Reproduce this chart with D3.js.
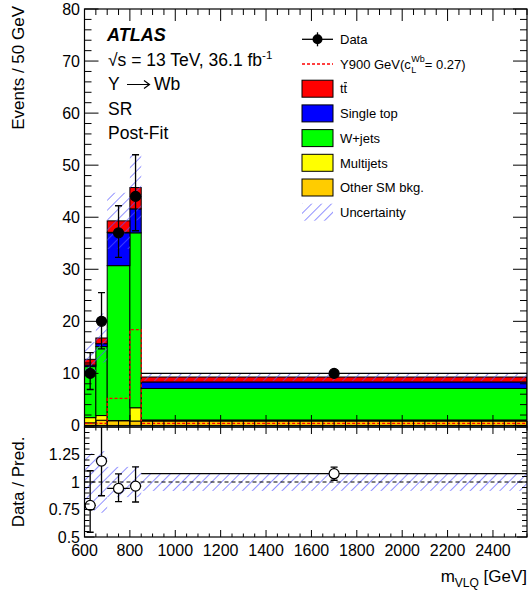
<!DOCTYPE html>
<html><head><meta charset="utf-8">
<script src="https://cdn.jsdelivr.net/npm/d3@7"></script>
<style>body{margin:0;background:#fff} text{font-family:"Liberation Sans",Arial,Helvetica,sans-serif;fill:#000}</style>
</head><body><svg id="c" width="531" height="597"></svg>
<script>
// ---- data ----
const binEdges   = [600, 650, 700, 800, 850, 2550];
const otherSM    = [0.5, 1.0, 0.9, 0.85, 0.85];
const multijets  = [1.0, 0.9, 0.05, 2.55, 0.2];
const wjets      = [9.8, 13.25, 29.75, 33.6, 6.05];
const singleTop  = [0.3, 0.55, 6.4, 4.6, 1.25];
const ttbar      = [1.1, 1.1, 2.2, 4.1, 0.95];
const uncertainty= [3.3, 4.7, 5.4, 6.3, 0.75];
const signalY900 = [0.4, 0.4, 5.2, 18.4, 0.4];
const dataVals   = [10, 20, 37, 44, 10];
const dataErrUp  = [4.0, 5.5, 5.2, 8.0, 0.55];
const dataErrDn  = [3.1, 5.3, 4.7, 6.6, 0.55];
const xTickVals  = [600, 800, 1000, 1200, 1400, 1600, 1800, 2000, 2200, 2400];
const yTickVals  = [0, 10, 20, 30, 40, 50, 60, 70, 80];
const rTickVals  = [0.5, 0.75, 1, 1.25];
const rTickLabels= ["0.5", "0.75", "1", "1.25"];
const seriesKeys  = ["otherSM", "multijets", "wjets", "singleTop", "ttbar"];
const seriesNames = ["Other SM bkg.", "Multijets", "W+jets", "Single top", "tt"];
const seriesColors= ["#ffcc00", "#ffff00", "#00ff00", "#0000ff", "#ff0000"];

// ---- layout ----
const L = 84.5, R = 527, T = 9, MB = 427, RB = 537;
const x  = d3.scaleLinear().domain([600, 2550]).range([L, R]);
const y  = d3.scaleLinear().domain([-0.3, 80]).range([MB, T]);
const yr = d3.scaleLinear().domain([0.5, 1.5]).range([RB, MB]);
const svg = d3.select("#c");
const defs = svg.append("defs");
defs.append("pattern").attr("id", "hatch").attr("patternUnits", "userSpaceOnUse")
  .attr("width", 7).attr("height", 7).attr("patternTransform", "rotate(45)")
  .append("line").attr("x1", 0).attr("y1", -1).attr("x2", 0).attr("y2", 8)
  .attr("stroke", "#5555ff").attr("stroke-width", 1.3);
defs.append("clipPath").attr("id", "clipM").append("rect").attr("x", L).attr("y", T).attr("width", R - L).attr("height", MB - T);
defs.append("clipPath").attr("id", "clipR").append("rect").attr("x", L).attr("y", MB).attr("width", R - L).attr("height", RB - MB);

// table for the stack
const rows = binEdges.slice(0, -1).map((e, i) => ({
  lo: e, hi: binEdges[i + 1],
  otherSM: otherSM[i], multijets: multijets[i], wjets: wjets[i], singleTop: singleTop[i], ttbar: ttbar[i]
}));
const stacked = d3.stack().keys(seriesKeys)(rows);
const totals = rows.map(r => seriesKeys.reduce((s, k) => s + r[k], 0));

const gM = svg.append("g").attr("clip-path", "url(#clipM)");
stacked.forEach((layer, li) => {
  gM.selectAll(null).data(layer).enter().append("rect")
    .attr("x", d => x(d.data.lo)).attr("width", d => x(d.data.hi) - x(d.data.lo))
    .attr("y", d => y(d[1])).attr("height", d => y(d[0]) - y(d[1]))
    .attr("fill", seriesColors[li]).attr("stroke", "#000").attr("stroke-width", 1);
});
// uncertainty band
gM.selectAll(null).data(rows).enter().append("rect")
  .attr("x", d => x(d.lo)).attr("width", d => x(d.hi) - x(d.lo))
  .attr("y", (d, i) => y(totals[i] + uncertainty[i]))
  .attr("height", (d, i) => y(totals[i] - uncertainty[i]) - y(totals[i] + uncertainty[i]))
  .attr("fill", "url(#hatch)");
// signal
const sigPts = [];
rows.forEach((r, i) => { sigPts.push([r.lo, signalY900[i]]); sigPts.push([r.hi, signalY900[i]]); });
gM.append("path").attr("d", d3.line().x(d => x(d[0])).y(d => y(d[1]))(sigPts))
  .attr("fill", "none").attr("stroke", "#ff0000").attr("stroke-width", 1.3).attr("stroke-dasharray", "3,2");
// data
function drawPoints(g, ys, vals, up, dn, filled) {
  rows.forEach((r, i) => {
    const cx = x((r.lo + r.hi) / 2), cy = ys(vals[i]);
    const yt = ys(vals[i] + up[i]), yb = ys(vals[i] - dn[i]);
    g.append("line").attr("x1", x(r.lo)).attr("x2", x(r.hi)).attr("y1", cy).attr("y2", cy).attr("stroke", "#000").attr("stroke-width", 1.3);
    g.append("line").attr("x1", cx).attr("x2", cx).attr("y1", yt).attr("y2", yb).attr("stroke", "#000").attr("stroke-width", 1.3);
    if (cy - yt > 6) {
      g.append("line").attr("x1", cx - 3.5).attr("x2", cx + 3.5).attr("y1", yt).attr("y2", yt).attr("stroke", "#000").attr("stroke-width", 1.3);
      g.append("line").attr("x1", cx - 3.5).attr("x2", cx + 3.5).attr("y1", yb).attr("y2", yb).attr("stroke", "#000").attr("stroke-width", 1.3);
    }
    g.append("circle").attr("cx", cx).attr("cy", cy).attr("r", 5)
      .attr("fill", filled ? "#000" : "#fff").attr("stroke", "#000").attr("stroke-width", 1.2);
  });
}
drawPoints(gM, y, dataVals, dataErrUp, dataErrDn, true);

// ratio panel
const gR = svg.append("g").attr("clip-path", "url(#clipR)");
gR.selectAll(null).data(rows).enter().append("rect")
  .attr("x", d => x(d.lo)).attr("width", d => x(d.hi) - x(d.lo))
  .attr("y", (d, i) => yr(1 + uncertainty[i] / totals[i]))
  .attr("height", (d, i) => yr(1 - uncertainty[i] / totals[i]) - yr(1 + uncertainty[i] / totals[i]))
  .attr("fill", "url(#hatch)");
gR.append("line").attr("x1", L).attr("x2", R).attr("y1", yr(1)).attr("y2", yr(1))
  .attr("stroke", "#000").attr("stroke-width", 1).attr("stroke-dasharray", "4,3");
const ratio = dataVals.map((d, i) => d / totals[i]);
drawPoints(gR, yr, ratio, dataErrUp.map((e, i) => e / totals[i]), dataErrDn.map((e, i) => e / totals[i]), false);

// ---- ticks & frames ----
const gA = svg.append("g").attr("stroke", "#000").attr("stroke-width", 1);
function tick(x1, y1, x2, y2) { gA.append("line").attr("x1", x1).attr("y1", y1).attr("x2", x2).attr("y2", y2); }
d3.range(600, 2551, 50).forEach(v => {
  const major = v % 200 === 0;
  const px = x(v);
  tick(px, MB, px, MB - (major ? 12 : 6));
  tick(px, T, px, T + (major ? 12 : 6));
  tick(px, RB, px, RB - (major ? 7 : 3.5));
  tick(px, MB, px, MB + (major ? 7 : 3.5));
});
d3.range(0, 80.01, 2).forEach(v => {
  const major = v % 10 === 0;
  const py = y(v);
  tick(L, py, L + (major ? 14 : 7), py);
  tick(R, py, R - (major ? 14 : 7), py);
});
d3.range(0, 21).forEach(k => {
  const v = 0.5 + k * 0.05;
  const major = k % 5 === 0;
  const py = yr(v);
  tick(L, py, L + (major ? 10 : 5), py);
  tick(R, py, R - (major ? 10 : 5), py);
});
svg.append("rect").attr("x", L).attr("y", T).attr("width", R - L).attr("height", MB - T).attr("fill", "none").attr("stroke", "#000").attr("stroke-width", 1.2);
svg.append("rect").attr("x", L).attr("y", MB).attr("width", R - L).attr("height", RB - MB).attr("fill", "none").attr("stroke", "#000").attr("stroke-width", 1.2);

// tick labels
svg.selectAll(null).data(yTickVals).enter().append("text")
  .attr("x", 80).attr("y", d => y(d) + 5.5).attr("text-anchor", "end").attr("font-size", 16).text(d => d);
svg.selectAll(null).data(rTickVals).enter().append("text")
  .attr("x", 80).attr("y", d => yr(d) + 5.5).attr("text-anchor", "end").attr("font-size", 16).text((d, i) => rTickLabels[i]);
svg.selectAll(null).data(xTickVals).enter().append("text")
  .attr("x", d => x(d)).attr("y", 556).attr("text-anchor", "middle").attr("font-size", 16).text(d => d);

// axis titles
svg.append("text").attr("transform", "translate(24,6) rotate(-90)").attr("text-anchor", "end").attr("font-size", 17).text("Events / 50 GeV");
svg.append("text").attr("transform", "translate(24,482) rotate(-90)").attr("text-anchor", "middle").attr("font-size", 17).text("Data / Pred.");
const xt = svg.append("text").attr("x", 527).attr("y", 582).attr("text-anchor", "end").attr("font-size", 17);
xt.append("tspan").text("m");
xt.append("tspan").attr("font-size", 12).attr("dy", 5).text("VLQ");
xt.append("tspan").attr("dy", -5).text(" [GeV]");

// labels
svg.append("text").attr("x", 107).attr("y", 41).attr("font-size", 18).attr("font-weight", "bold").attr("font-style", "italic").text("ATLAS");
const sq = svg.append("text").attr("x", 108).attr("y", 65.5).attr("font-size", 17.5);
sq.append("tspan").text("\u221As = 13 TeV, 36.1 fb");
sq.append("tspan").attr("font-size", 11.5).attr("dy", -7).text("-1");
svg.append("text").attr("x", 108).attr("y", 90).attr("font-size", 17.5).text("Y");
// arrow of "Y -> Wb"
svg.append("path").attr("d", "M127,84.5 H149 M144,80.5 L149.5,84.5 L144,88.5")
  .attr("fill", "none").attr("stroke", "#000").attr("stroke-width", 1.2);
svg.append("text").attr("x", 154).attr("y", 90).attr("font-size", 17.5).text("Wb");
svg.append("text").attr("x", 108).attr("y", 114.5).attr("font-size", 17.5).text("SR");
svg.append("text").attr("x", 108).attr("y", 139).attr("font-size", 17.5).text("Post-Fit");

// legend
const lx0 = 302, lx1 = 333, tx = 340, ly0 = 39.3, dy = 24.7;
const legend = svg.append("g");
// Data
legend.append("line").attr("x1", lx0).attr("x2", lx1).attr("y1", ly0).attr("y2", ly0).attr("stroke", "#000").attr("stroke-width", 1.3);
legend.append("line").attr("x1", (lx0 + lx1) / 2).attr("x2", (lx0 + lx1) / 2).attr("y1", ly0 - 7).attr("y2", ly0 + 7).attr("stroke", "#000").attr("stroke-width", 1.3);
legend.append("circle").attr("cx", (lx0 + lx1) / 2).attr("cy", ly0).attr("r", 5).attr("fill", "#000");
legend.append("text").attr("x", tx).attr("y", ly0 + 4.7).attr("font-size", 13).text("Data");
// signal
const ys1 = ly0 + dy;
legend.append("line").attr("x1", lx0).attr("x2", lx1).attr("y1", ys1).attr("y2", ys1).attr("stroke", "#ff0000").attr("stroke-width", 1.3).attr("stroke-dasharray", "3,2");
const st = legend.append("text").attr("x", tx).attr("y", ys1 + 4.7).attr("font-size", 13).text("Y900 GeV(c");
const w1 = st.node().getComputedTextLength();
legend.append("text").attr("x", tx + w1 + 0.5).attr("y", ys1 - 2).attr("font-size", 9).text("Wb");
legend.append("text").attr("x", tx + w1 + 0.5).attr("y", ys1 + 9).attr("font-size", 9).text("L");
legend.append("text").attr("x", tx + w1 + 14).attr("y", ys1 + 4.7).attr("font-size", 13).text("= 0.27)");
// boxes (top: ttbar)
[4, 3, 2, 1, 0].forEach((si, k) => {
  const yc = ly0 + dy * (2 + k);
  legend.append("rect").attr("x", lx0).attr("y", yc - 8.5).attr("width", lx1 - lx0).attr("height", 17)
    .attr("fill", seriesColors[si]).attr("stroke", "#000").attr("stroke-width", 1);
  const t = legend.append("text").attr("x", tx).attr("y", yc + 4.7).attr("font-size", 13).text(seriesNames[si]);
  if (si === 4) {
    const n = t.node();
    const a = n.getSubStringLength(0, 1), b = n.getSubStringLength(1, 1);
    legend.append("line").attr("x1", tx + a + 0.3).attr("x2", tx + a + b - 0.3).attr("y1", yc - 6).attr("y2", yc - 6).attr("stroke", "#000").attr("stroke-width", 1);
  }
});
const yu = ly0 + dy * 7;
legend.append("rect").attr("x", lx0).attr("y", yu - 8.5).attr("width", lx1 - lx0).attr("height", 17).attr("fill", "url(#hatch)");
legend.append("text").attr("x", tx).attr("y", yu + 4.7).attr("font-size", 13).text("Uncertainty");
</script></body></html>
